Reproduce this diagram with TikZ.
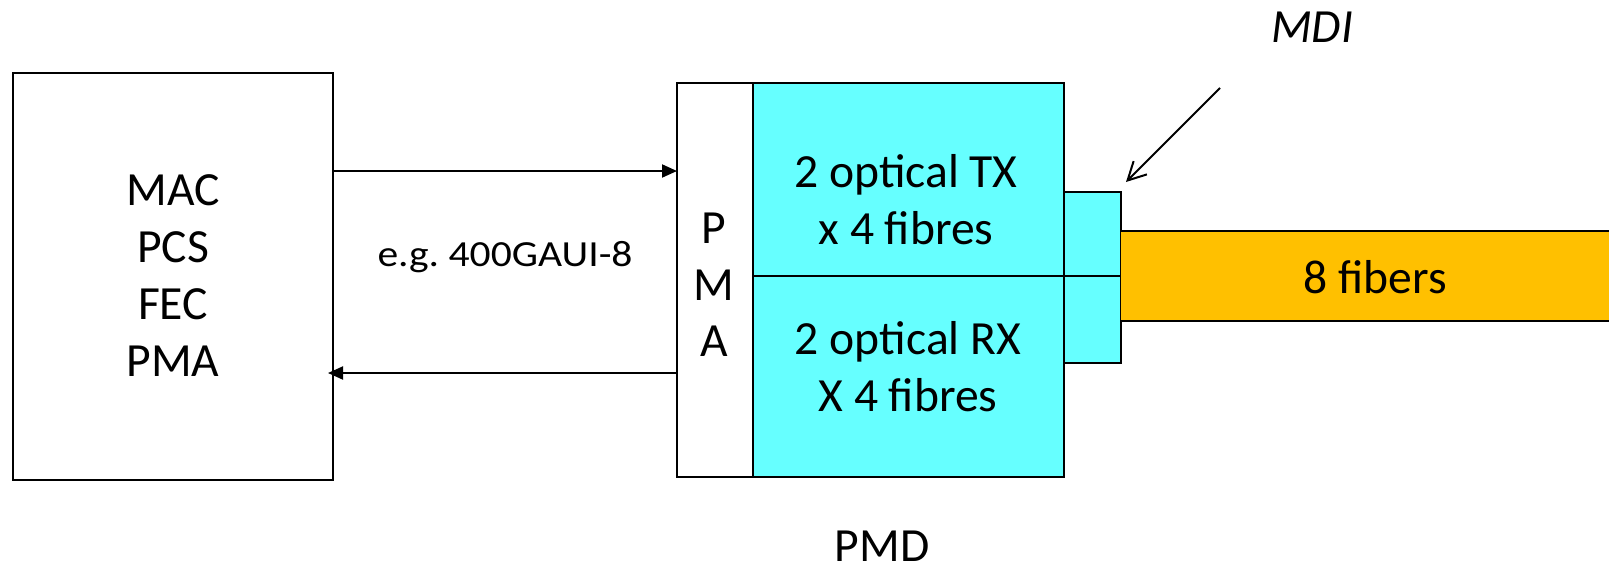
\documentclass[tikz,border=0pt]{standalone}
\usepackage{fontspec}
\setmainfont{Carlito}
\newfontfamily\widefont[FakeStretch=1.13]{Carlito}
\usetikzlibrary{arrows.meta}
\definecolor{cyanbox}{HTML}{66FFFF}
\definecolor{fiber}{HTML}{FFC000}
\begin{document}
\begin{tikzpicture}[x=0.5pt,y=-0.5pt,
  box/.style={draw=black, line width=1.2pt, inner sep=0pt, outer sep=0pt},
  big/.style={font=\fontsize{23.8}{28.5}\selectfont, align=center, inner sep=0pt},
  small/.style={font=\widefont\fontsize{18.4}{21}\selectfont, inner sep=0pt},
  sig/.style={line width=1pt, -{Triangle[length=7.5pt,width=6.5pt]}},
  pointer/.style={line width=1pt, -{Straight Barb[length=9pt,width=9.4pt,line width=1pt]}}]
\useasboundingbox (0,0) rectangle (1609,569);

% boxes
\node[box, minimum width=160pt, minimum height=203.5pt] (mac) at (173,276.5) {};
\node[box, minimum width=38pt, minimum height=197pt] (pma) at (715,280) {};
\node[box, fill=cyanbox, minimum width=155.5pt, minimum height=96.5pt] (tx) at (908.5,179.5) {};
\node[box, fill=cyanbox, minimum width=155.5pt, minimum height=100.5pt] (rx) at (908.5,376.5) {};
\node[box, fill=cyanbox, minimum width=28.5pt, minimum height=42pt] (mditop) at (1092.5,234) {};
\node[box, fill=cyanbox, minimum width=28.5pt, minimum height=43.5pt] (mdibot) at (1092.5,319.5) {};
\node[fill=fiber, inner sep=0pt, outer sep=0pt, minimum width=244pt, minimum height=45pt] (fib) at (1365,276) {};
\draw[line width=1.2pt] (fib.north west) -- (fib.north east);
\draw[line width=1.2pt] (fib.south west) -- (fib.south east);

% texts
\node[big] (mactext) at (173,276) {MAC\\PCS\\FEC\\PMA};
\node[big, font=\fontsize{23.8}{28.25}\selectfont] (pmatext) at (714,285) {P\\M\\A};
\node[big] (txtext) at (906,200) {2 optical TX\\x 4 fibres};
\node[big] (rxtext) at (908,366.5) {2 optical RX\\X 4 fibres};
\node[big, anchor=base] (fibtext) at (1375,293) {8 fibers};
\node[big, anchor=base, font=\fontsize{23.8}{28.5}\selectfont\itshape] (mdi) at (1312,42) {MDI};
\node[big, anchor=base] (pmd) at (882,561) {PMD};
\node[small, anchor=base] (gaui) at (505,266) {e.g.\ 400GAUI-8};

% connectors
\draw[sig] (mac.east |- 0,171) -- (pma.west |- 0,171);
\draw[sig] (pma.west |- 0,373) -- ([xshift=-2.5pt]mac.east |- 0,373);
\coordinate (mdistart) at (1220,88);
\coordinate (mditip) at (1126,182);
\draw[pointer] (mdistart) -- (mditip);
\end{tikzpicture}
\end{document}
